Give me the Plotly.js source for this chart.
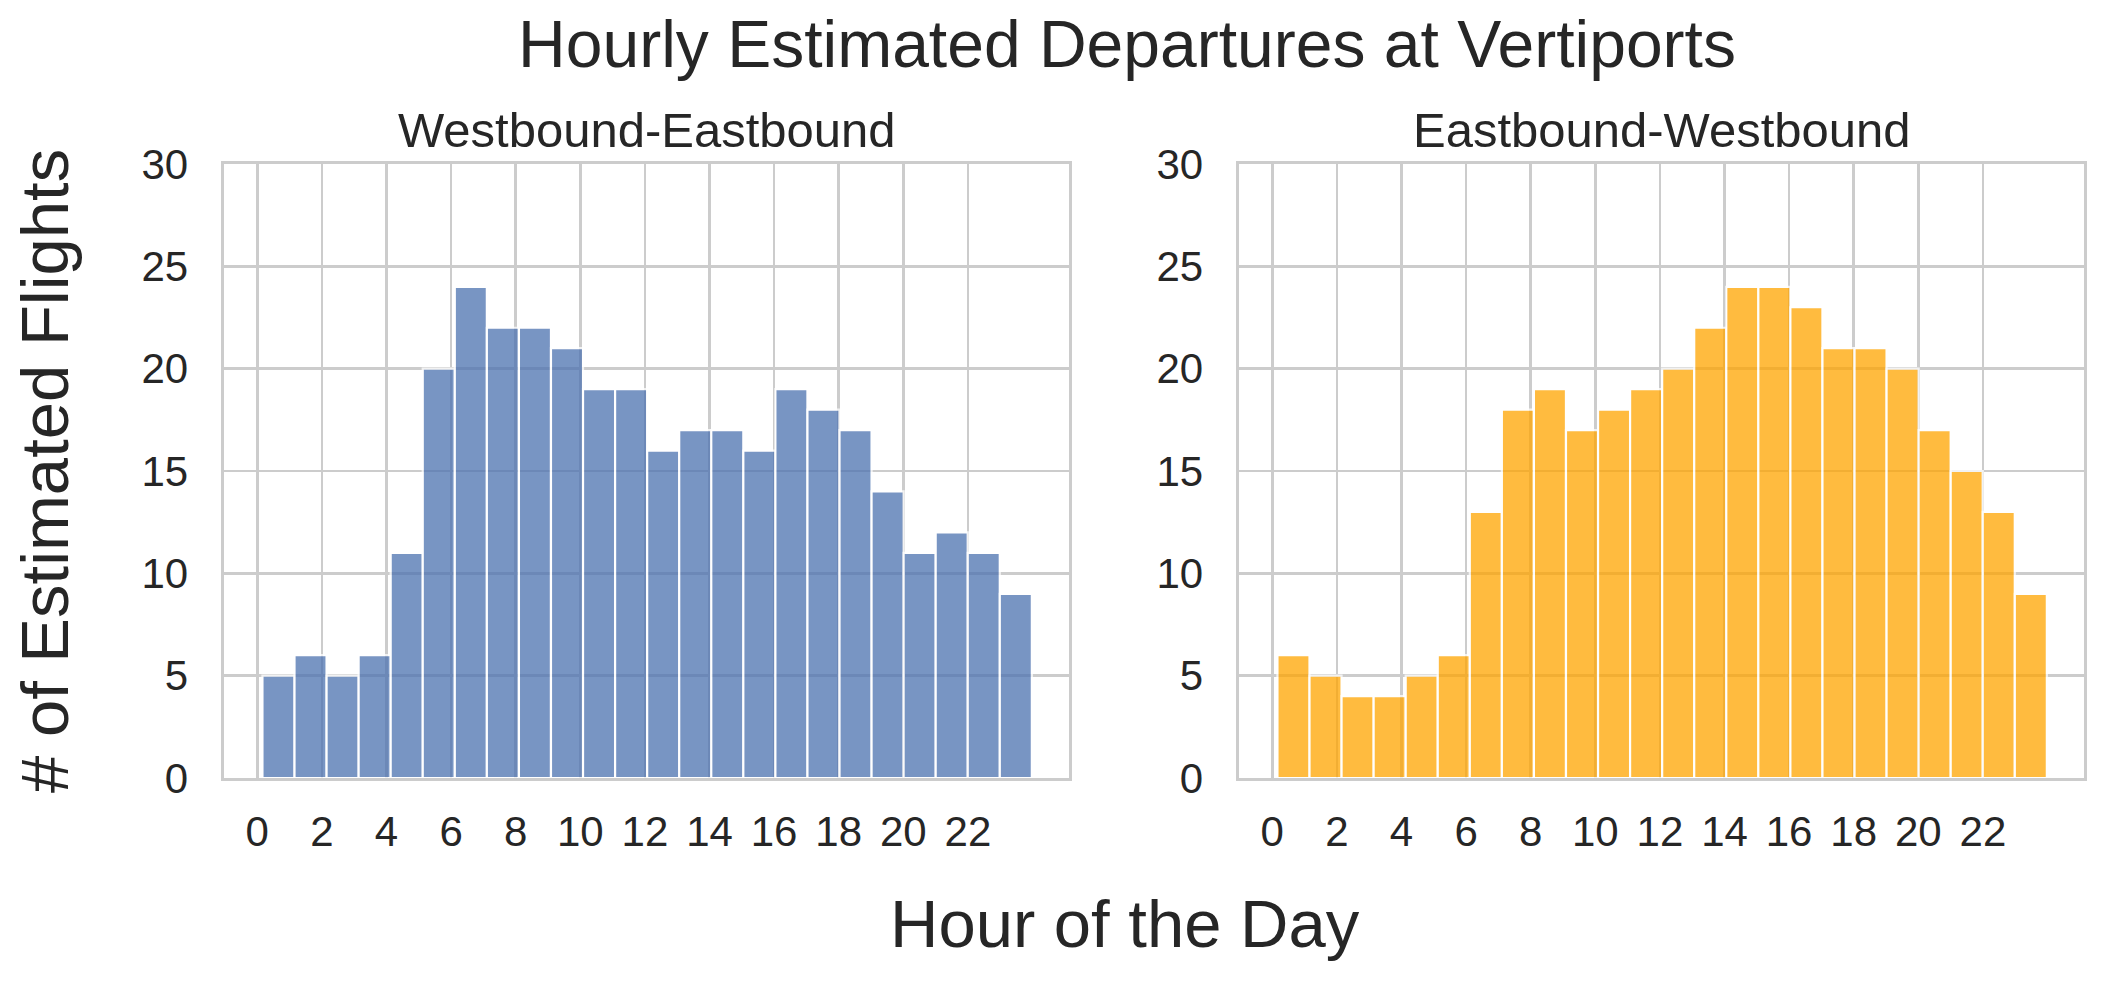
<!DOCTYPE html>
<html>
<head>
<meta charset="utf-8">
<script src="https://cdn.plot.ly/plotly-3.0.1.min.js"></script>
<style>html,body{margin:0;padding:0;background:#fff;}#chart{width:2104px;height:981px;}</style>
</head>
<body>
<div id="chart"></div>
<script>
// ---- data ----
const hours = [0,1,2,3,4,5,6,7,8,9,10,11,12,13,14,15,16,17,18,19,20,21,22,23];
const westEast = [5,6,5,6,11,20,24,22,22,21,19,19,16,17,17,16,19,18,17,14,11,12,11,9];
const eastWest = [6,5,4,4,5,6,13,18,19,17,18,19,20,22,24,24,23,21,21,20,17,15,13,9];
const xTickVals = [0,2,4,6,8,10,12,14,16,18,20,22];
const yTickVals = [0,5,10,15,20,25,30];
const titleText = "Hourly Estimated Departures at Vertiports";
const subTitles = ["Westbound-Eastbound", "Eastbound-Westbound"];
const xTitle = "Hour of the Day";
const yTitle = "# of Estimated Flights";

// histogram bin layout (bins span the observed hour range)
const BIN_START = 0.16, BIN_W = 0.9925;
const centers = hours.map(h => BIN_START + BIN_W * (h + 0.5));

const FONT = "Liberation Sans, Arial, Helvetica, sans-serif";
const TXT = "#262626";
const GRID = "#cccccc";

function barTrace(vals, color, xa, ya) {
  return {
    type: "bar", x: centers, y: vals, width: BIN_W,
    xaxis: xa, yaxis: ya,
    marker: {color: color, opacity: 0.75, line: {color: "#ffffff", width: 2.2}},
    hoverinfo: "x+y", showlegend: false
  };
}

const data = [
  barTrace(westEast, "#4c72b0", "x", "y"),
  barTrace(eastWest, "#ffa500", "x2", "y2")
];

function xax(domain, anchor) {
  return {
    domain: domain, anchor: anchor, range: [-1.03, 25.13],
    tickvals: xTickVals, ticktext: xTickVals.map(String),
    showgrid: true, gridcolor: GRID, gridwidth: 2.7,
    showline: true, linecolor: GRID, linewidth: 3.4, mirror: true,
    zeroline: false, ticks: "", ticklabelstandoff: 14,
    tickfont: {family: FONT, size: 42, color: TXT}
  };
}
function yax(anchor) {
  return {
    anchor: anchor, range: [0, 30], domain: [0, 1],
    tickvals: yTickVals,
    showgrid: true, gridcolor: GRID, gridwidth: 2.7,
    showline: true, linecolor: GRID, linewidth: 3.4, mirror: true,
    zeroline: false, ticks: "", ticklabelstandoff: 24,
    tickfont: {family: FONT, size: 42, color: TXT}
  };
}

const d1 = [0, 845/1860], d2 = [1015/1860, 1];

const layout = {
  width: 2104, height: 981,
  margin: {l: 224, r: 20, t: 164, b: 203, pad: 0},
  paper_bgcolor: "#ffffff", plot_bgcolor: "#ffffff",
  bargap: 0,
  title: {text: titleText, font: {family: FONT, size: 66, color: TXT},
          xref: "container", yref: "container", x: 1127/2104, xanchor: "center",
          y: 1 - 44/981, yanchor: "middle"},
  xaxis: xax(d1, "y"), yaxis: yax("x"),
  xaxis2: xax(d2, "y2"), yaxis2: yax("x2"),
  annotations: [
    {text: subTitles[0], xref: "paper", yref: "paper", x: (d1[0]+d1[1])/2, y: (778-129.5)/614,
     xanchor: "center", yanchor: "middle", showarrow: false, font: {family: FONT, size: 49, color: TXT}},
    {text: subTitles[1], xref: "paper", yref: "paper", x: (d2[0]+d2[1])/2, y: (778-129.5)/614,
     xanchor: "center", yanchor: "middle", showarrow: false, font: {family: FONT, size: 49, color: TXT}},
    {text: xTitle, xref: "paper", yref: "paper", x: (1125-224)/1860, y: (778-923.5)/614,
     xanchor: "center", yanchor: "middle", showarrow: false, font: {family: FONT, size: 67, color: TXT}},
    {text: yTitle, xref: "paper", yref: "paper", x: (44-224)/1860, y: 0.5, textangle: -90,
     xanchor: "center", yanchor: "middle", showarrow: false, font: {family: FONT, size: 67, color: TXT}}
  ]
};

Plotly.newPlot("chart", data, layout, {displayModeBar: false, staticPlot: true});
</script>
</body>
</html>
